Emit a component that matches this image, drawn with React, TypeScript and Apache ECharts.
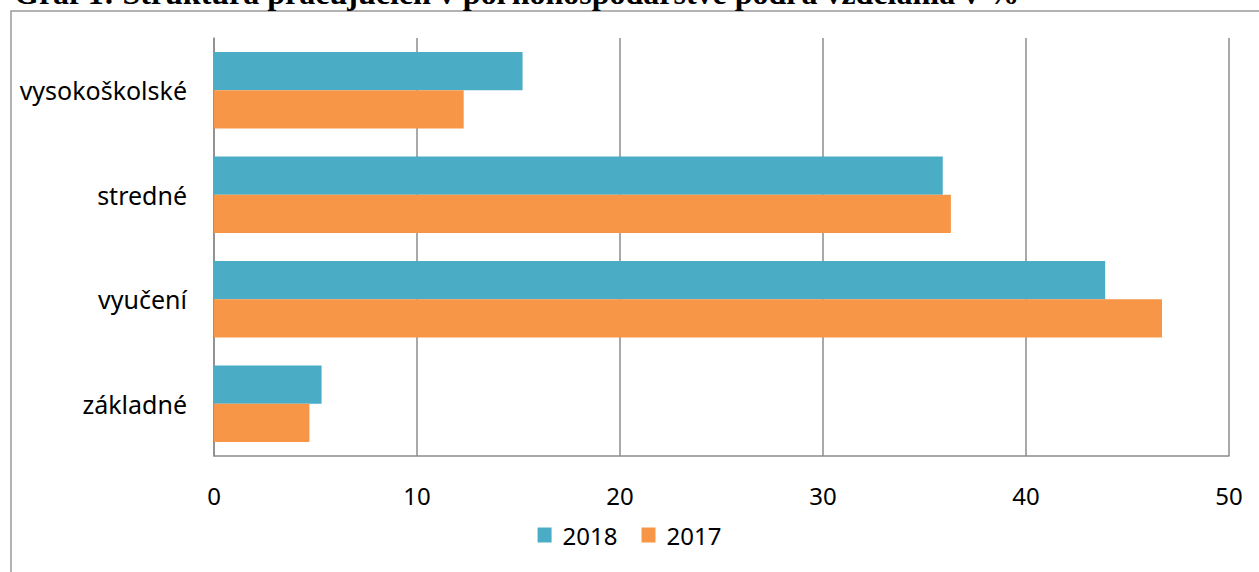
import React, { useEffect, useRef } from "react";
import * as echarts from "echarts";

const titleText = "Graf 1: Štruktúra pracujúcich v poľnohospodárstve podľa vzdelania v %";
const categories = ["vysokoškolské", "stredné", "vyučení", "základné"];
const seriesNames = ["2018", "2017"];
const values2018 = [15.2, 35.9, 43.9, 5.3];
const values2017 = [12.3, 36.3, 46.7, 4.7];
const colors = ["#4BACC6", "#F79646"];

export default function App() {
  const ref = useRef<HTMLDivElement>(null);
  useEffect(() => {
    document.body.style.margin = "0";
    const chart = echarts.init(ref.current!, null, { renderer: "svg" });
    const labelFont = "'Noto Sans', 'Open Sans', sans-serif";
    chart.setOption({
      animation: false,
      backgroundColor: "#ffffff",
      graphic: [
        {
          type: "rect",
          shape: { x: 11, y: 11, width: 1400, height: 700 },
          style: { fill: "none", stroke: "#9a9a9a", lineWidth: 1.5 },
          z: -1,
        },
        {
          type: "text",
          x: 14,
          y: 9,
          style: {
            text: titleText,
            font: "bold 32px 'Liberation Serif', 'Times New Roman', serif",
            fill: "#000",
            textVerticalAlign: "bottom",
            verticalAlign: "bottom",
          },
        },
      ],
      legend: {
        data: seriesNames,
        bottom: 20,
        left: "center",
        itemWidth: 14,
        itemHeight: 15,
        itemGap: 24,
        icon: "rect",
        textStyle: { fontSize: 24, fontFamily: labelFont, color: "#000", padding: [0, 0, 0, 6] },
      },
      grid: { left: 214, right: 30, top: 38, bottom: 116, containLabel: false },
      xAxis: {
        type: "value",
        min: 0,
        max: 50,
        interval: 10,
        axisLine: { show: true, lineStyle: { color: "#8c8c8c", width: 1.5 } },
        axisTick: { show: false },
        axisLabel: { fontSize: 24, fontFamily: labelFont, color: "#000", margin: 27 },
        splitLine: { show: true, lineStyle: { color: "#8c8c8c", width: 1.5 } },
      },
      yAxis: {
        type: "category",
        data: categories,
        inverse: true,
        axisLine: { show: true, lineStyle: { color: "#8c8c8c", width: 1.5 } },
        axisTick: { show: false },
        axisLabel: { fontSize: 25, fontFamily: labelFont, color: "#000", margin: 27 },
        splitLine: { show: false },
      },
      series: [
        {
          name: seriesNames[0],
          type: "bar",
          data: values2018,
          itemStyle: { color: colors[0] },
          barGap: "0%",
          barCategoryGap: "27%",
        },
        {
          name: seriesNames[1],
          type: "bar",
          data: values2017,
          itemStyle: { color: colors[1] },
          barGap: "0%",
          barCategoryGap: "27%",
        },
      ],
    });
    return () => chart.dispose();
  }, []);
  return <div ref={ref} style={{ position: "absolute", left: 0, top: 0, width: 1259, height: 572 }} />;
}
